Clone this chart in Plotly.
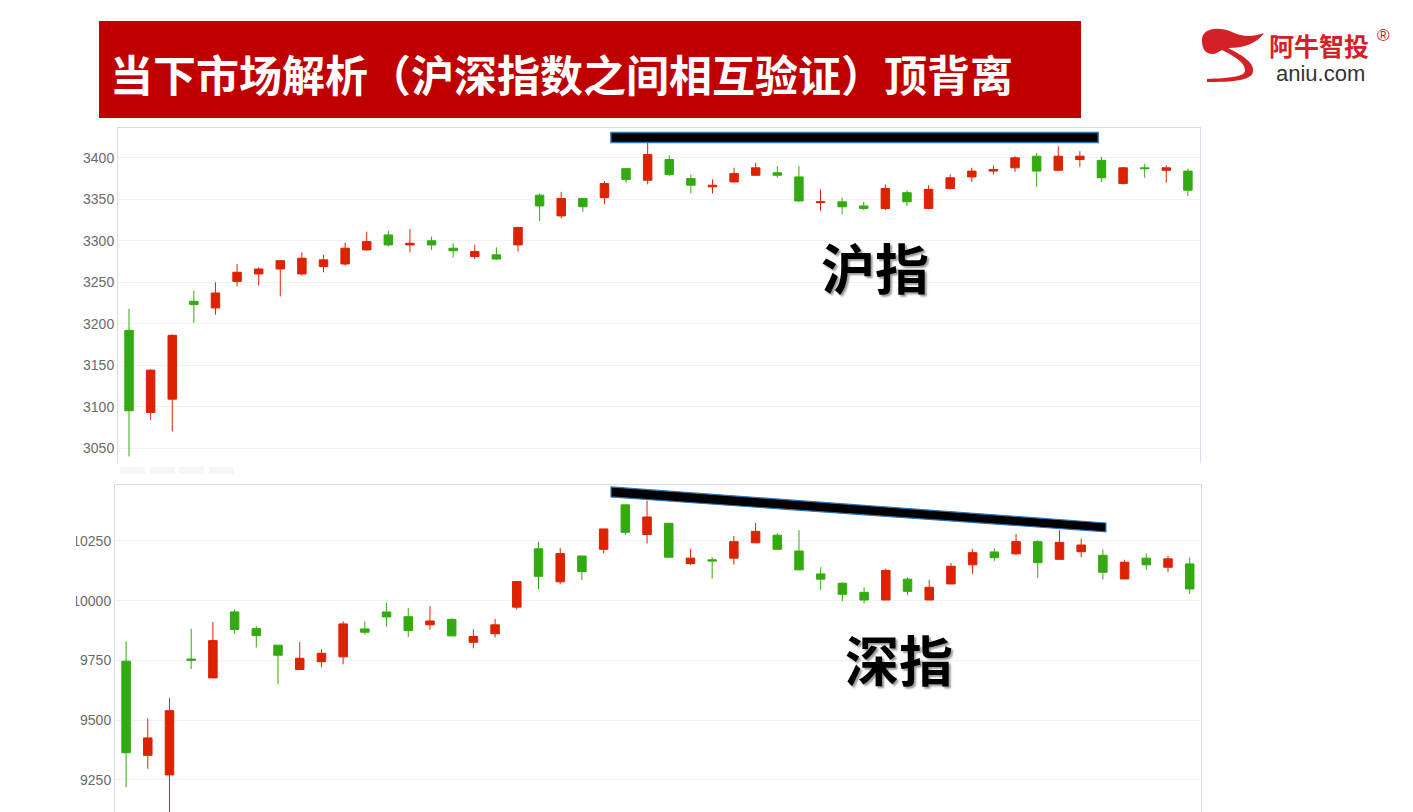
import plotly.graph_objects as go

W, H = 1413, 812

# ---------------- data ----------------
days = list(range(50))

sh_open = [3192, 3093, 3109, 3227, 3219, 3251, 3260, 3266, 3260, 3269,
           3272, 3289, 3307, 3295, 3300, 3291, 3281, 3283, 3295, 3355,
           3330, 3351, 3352, 3387, 3373, 3398, 3375, 3365, 3371, 3379,
           3382, 3377, 3346, 3347, 3342, 3339, 3358, 3339, 3363, 3377,
           3384, 3388, 3402, 3385, 3398, 3397, 3369, 3388, 3385, 3384]
sh_high = [3218, 3145, 3187, 3240, 3250, 3272, 3268, 3276, 3286, 3283,
           3298, 3311, 3312, 3314, 3305, 3297, 3295, 3292, 3317, 3357,
           3359, 3351, 3372, 3387, 3418, 3403, 3380, 3374, 3388, 3394,
           3390, 3390, 3362, 3352, 3347, 3368, 3361, 3367, 3380, 3388,
           3391, 3402, 3406, 3414, 3408, 3401, 3389, 3393, 3391, 3387]
sh_low = [3040, 3084, 3070, 3201, 3211, 3245, 3246, 3233, 3258, 3262,
          3270, 3288, 3293, 3286, 3289, 3280, 3278, 3277, 3287, 3324,
          3327, 3335, 3344, 3370, 3368, 3378, 3357, 3357, 3370, 3378,
          3376, 3347, 3336, 3332, 3337, 3337, 3342, 3338, 3362, 3371,
          3380, 3383, 3365, 3384, 3389, 3371, 3368, 3376, 3370, 3354]
sh_close = [3095, 3144, 3186, 3223, 3237, 3262, 3266, 3276, 3279, 3277,
            3291, 3299, 3295, 3297, 3295, 3288, 3287, 3278, 3316, 3342,
            3351, 3341, 3369, 3374, 3404, 3380, 3367, 3367, 3381, 3388,
            3379, 3348, 3347, 3341, 3339, 3363, 3347, 3362, 3376, 3384,
            3386, 3400, 3384, 3402, 3402, 3376, 3388, 3387, 3388, 3361]

sz_open = [9747, 9353, 9271, 9756, 9677, 9953, 9883, 9814, 9712, 9745,
           9765, 9882, 9953, 9933, 9899, 9922, 9826, 9862, 9973, 10217,
           10079, 10187, 10215, 10401, 10277, 10324, 10155, 10171, 10178, 10242,
           10274, 10208, 10112, 10073, 10035, 10003, 10090, 10003, 10070, 10150,
           10204, 10196, 10247, 10173, 10205, 10190, 10091, 10178, 10140, 10154]
sz_high = [9830, 9507, 9593, 9883, 9911, 9964, 9894, 9814, 9827, 9797,
           9914, 9914, 9991, 9970, 9977, 9926, 9880, 9924, 10080, 10247,
           10221, 10188, 10301, 10401, 10419, 10324, 10217, 10182, 10271, 10325,
           10282, 10295, 10140, 10077, 10056, 10134, 10097, 10087, 10158, 10217,
           10219, 10279, 10253, 10295, 10260, 10214, 10171, 10198, 10187, 10182]
sz_low = [9219, 9297, 9110, 9714, 9676, 9861, 9804, 9650, 9711, 9721,
          9734, 9858, 9892, 9848, 9879, 9850, 9801, 9846, 9963, 10049,
          10069, 10087, 10198, 10275, 10239, 10181, 10150, 10092, 10151, 10241,
          10215, 10128, 10045, 9999, 9989, 10002, 10023, 10002, 10069, 10112,
          10166, 10189, 10095, 10172, 10182, 10088, 10090, 10130, 10119, 10028]
sz_close = [9364, 9426, 9540, 9751, 9833, 9880, 9854, 9772, 9759, 9780,
            9903, 9868, 9932, 9875, 9915, 9853, 9850, 9899, 10080, 10102,
            10197, 10122, 10300, 10286, 10350, 10182, 10178, 10166, 10247, 10290,
            10215, 10129, 10090, 10027, 10003, 10127, 10039, 10056, 10144, 10201,
            10180, 10247, 10159, 10244, 10233, 10119, 10161, 10150, 10175, 10049]

sh_ticks = [3050, 3100, 3150, 3200, 3250, 3300, 3350, 3400]
sz_ticks = [9250, 9500, 9750, 10000, 10250]
sz_ticktext = ["9250", "9500", "9750", "10000", "10250"]

title_text = "当下市场解析（沪深指数之间相互验证）顶背离"
label_sh = "沪指"
label_sz = "深指"

# ---------------- style ----------------
UP = "#DD2200"
DOWN = "#33AA11"
GRID = "#f0f1f5"
BORDER = "#d5deea"
TICKC = "#6a6a6a"


def px(x):
    return x / W


def py(y):
    return 1 - y / H


def path(points, close=True):
    s = ""
    for p in points:
        if isinstance(p, str):
            s += p + " "
        else:
            s += f"{px(p[0]):.5f},{py(p[1]):.5f} "
    return s + ("Z" if close else "")


fig = go.Figure()

fig.add_trace(go.Candlestick(
    x=days, open=sh_open, high=sh_high, low=sh_low, close=sh_close,
    increasing=dict(line=dict(color=UP, width=1), fillcolor=UP),
    decreasing=dict(line=dict(color=DOWN, width=1), fillcolor=DOWN),
    whiskerwidth=0, xaxis="x", yaxis="y", showlegend=False, hoverinfo="skip"))

fig.add_trace(go.Candlestick(
    x=days, open=sz_open, high=sz_high, low=sz_low, close=sz_close,
    increasing=dict(line=dict(color=UP, width=1), fillcolor=UP),
    decreasing=dict(line=dict(color=DOWN, width=1), fillcolor=DOWN),
    whiskerwidth=0, xaxis="x2", yaxis="y2", showlegend=False, hoverinfo="skip"))

axis_font = dict(family="Liberation Sans, Arial, sans-serif", size=14, color=TICKC)

fig.update_layout(
    width=W, height=H,
    margin=dict(l=0, r=0, t=0, b=0),
    paper_bgcolor="white", plot_bgcolor="white",
    boxgap=0.44,
    xaxis=dict(domain=[px(118), px(1200)], range=[-0.51, 49.56],
               anchor="y", side="top", showticklabels=False, ticks="",
               showgrid=False, zeroline=False, showline=True,
               linecolor=BORDER, linewidth=1,
               rangeslider=dict(visible=False), fixedrange=True),
    yaxis=dict(domain=[py(463), py(128)], range=[3032, 3436],
               anchor="x", tickvals=sh_ticks, ticks="", tickfont=axis_font,
               showgrid=True, gridcolor=GRID, gridwidth=1, zeroline=False,
               showline=True, mirror=True, linecolor=BORDER, linewidth=1,
               fixedrange=True),
    xaxis2=dict(domain=[px(115), px(1201)], range=[-0.51, 49.52],
                anchor="y2", side="top", showticklabels=False, ticks="",
                showgrid=False, zeroline=False, showline=True,
                linecolor=BORDER, linewidth=1,
                rangeslider=dict(visible=False), fixedrange=True),
    yaxis2=dict(domain=[0, py(485)], range=[9116, 10484],
                anchor="x2", tickvals=sz_ticks, ticktext=sz_ticktext, ticks="",
                tickfont=axis_font,
                showgrid=True, gridcolor=GRID, gridwidth=1, zeroline=False,
                showline=True, mirror=True, linecolor=BORDER, linewidth=1,
                fixedrange=True),
)

shapes = []
# title banner
shapes.append(dict(type="rect", xref="paper", yref="paper",
                   x0=px(99), x1=px(1081), y0=py(118), y1=py(21),
                   fillcolor="#C00000", line=dict(width=0), layer="above"))
# clip of the lower chart's left labels
shapes.append(dict(type="rect", xref="paper", yref="paper",
                   x0=0, x1=px(76), y0=0, y1=py(486),
                   fillcolor="white", line=dict(width=0), layer="above"))
# faint placeholders of hidden x labels under the upper chart
for x0 in (120, 150, 179, 209):
    shapes.append(dict(type="rect", xref="paper", yref="paper",
                       x0=px(x0), x1=px(x0 + 25), y0=py(474), y1=py(467),
                       fillcolor="#f6f6f6", line=dict(width=0)))
# top chart: horizontal top line
shapes.append(dict(type="rect", xref="x", yref="y",
                   x0=22.3, x1=44.85, y0=3418.5, y1=3430.5,
                   fillcolor="black", line=dict(color="#2E75B6", width=1.5),
                   layer="above"))
# bottom chart: descending top line
shapes.append(dict(type="path", xref="x2", yref="y2",
                   path="M 22.34,10476 L 45.14,10325 L 45.14,10288 L 22.34,10434 Z",
                   fillcolor="black", line=dict(color="#2E75B6", width=1.2),
                   layer="above"))
# logo swoosh
shapes.append(dict(type="path", xref="paper", yref="paper",
                   path=path(["M", (1202, 41), "C", (1201, 28), (1218, 26), (1232, 32),
                              "C", (1243, 37), (1252, 37), (1264, 33),
                              "C", (1257, 44), (1242, 48), (1229, 48),
                              "C", (1222, 48), (1218, 54), (1213, 54),
                              "C", (1205, 54), (1202, 48), (1202, 41)]),
                   fillcolor="#D42027", line=dict(width=0)))
shapes.append(dict(type="path", xref="paper", yref="paper",
                   path=path(["M", (1226, 47), "C", (1240, 54), (1255, 62), (1253, 72),
                              "C", (1251, 81), (1232, 82), (1207, 82),
                              "L", (1207, 79),
                              "C", (1228, 78), (1244, 77), (1245, 71),
                              "C", (1246, 63), (1234, 56), (1222, 50)]),
                   fillcolor="#D42027", line=dict(width=0)))
fig.update_layout(shapes=shapes)

annotations = []
annotations.append(dict(xref="paper", yref="paper", x=px(108), y=py(73),
                        xanchor="left", yanchor="middle", showarrow=False,
                        text=title_text,
                        font=dict(family="Noto Sans CJK SC", size=43,
                                  color="white", weight="bold")))
annotations.append(dict(xref="paper", yref="paper", x=px(875), y=py(266),
                        xanchor="center", yanchor="middle", showarrow=False,
                        text=label_sh,
                        font=dict(family="Noto Sans CJK SC", size=54,
                                  color="black", weight="bold",
                                  shadow="2px 2px 2px #9a9a9a")))
annotations.append(dict(xref="paper", yref="paper", x=px(899), y=py(658),
                        xanchor="center", yanchor="middle", showarrow=False,
                        text=label_sz,
                        font=dict(family="Noto Sans CJK SC", size=54,
                                  color="black", weight="bold",
                                  shadow="2px 2px 2px #9a9a9a")))
annotations.append(dict(xref="paper", yref="paper", x=px(1319), y=py(45),
                        xanchor="center", yanchor="middle", showarrow=False,
                        text="阿牛智投",
                        font=dict(family="Noto Sans CJK SC", size=25,
                                  color="#D42027", weight="bold")))
annotations.append(dict(xref="paper", yref="paper", x=px(1383), y=py(35),
                        xanchor="center", yanchor="middle", showarrow=False,
                        text="®",
                        font=dict(family="Liberation Sans", size=17,
                                  color="#D42027")))
annotations.append(dict(xref="paper", yref="paper", x=px(1320), y=py(73),
                        xanchor="center", yanchor="middle", showarrow=False,
                        text="aniu.com",
                        font=dict(family="Liberation Sans", size=22,
                                  color="#333333")))
fig.update_layout(annotations=annotations)

fig.write_html("out.html",
               config={"displayModeBar": False},
               post_script="document.body.style.margin='0';"
                           "document.body.style.overflow='hidden';")
